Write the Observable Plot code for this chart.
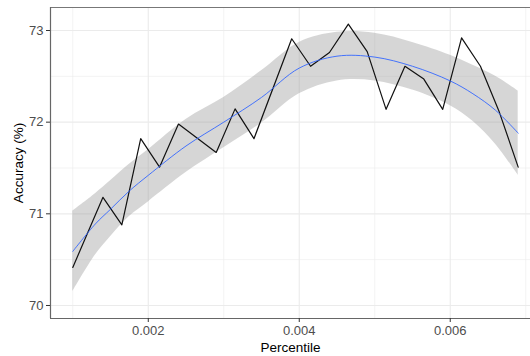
<!DOCTYPE html>
<html>
<head>
<meta charset="utf-8">
<script src="https://cdn.jsdelivr.net/npm/d3@7"></script>
<script src="https://cdn.jsdelivr.net/npm/@observablehq/plot@0.6"></script>
<style>
  html, body { margin: 0; padding: 0; background: #fff; }
  #chart svg { font-family: "Liberation Sans", Arial, sans-serif; display: block; }
  #chart svg [aria-label="x-axis label"] text,
  #chart svg [aria-label="y-axis label"] text { font-size: 13.5px; fill: #000; }
</style>
</head>
<body>
<div id="chart"></div>
<script>
// Observed accuracy by percentile
const percentile = [0.001, 0.0014, 0.00165, 0.0019, 0.00215, 0.0024, 0.0029, 0.00315, 0.0034,
  0.0039, 0.00415, 0.0044, 0.00465, 0.0049, 0.00515, 0.0054, 0.00565, 0.0059, 0.00615,
  0.0064, 0.00665, 0.0069];
const accuracy = [70.415, 71.18, 70.88, 71.82, 71.51, 71.98, 71.67, 72.145, 71.82,
  72.91, 72.61, 72.76, 73.07, 72.77, 72.14, 72.61, 72.47, 72.14, 72.92,
  72.61, 72.11, 71.51];

// Loess smooth and its confidence band
const smoothX = [0.001, 0.0013, 0.0015, 0.00175, 0.002, 0.0025, 0.003, 0.0035, 0.004,
  0.0045, 0.005, 0.0055, 0.006, 0.0063, 0.0066, 0.0069];
const smoothFit = [70.59, 70.89, 71.05, 71.25, 71.42, 71.74, 72.00, 72.27, 72.59,
  72.72, 72.71, 72.61, 72.45, 72.31, 72.13, 71.88];
const smoothLow = [70.15, 70.55, 70.75, 70.97, 71.13, 71.45, 71.72, 71.99, 72.31,
  72.45, 72.45, 72.35, 72.18, 72.01, 71.76, 71.42];
const smoothHigh = [71.03, 71.22, 71.36, 71.54, 71.70, 72.03, 72.27, 72.56, 72.87,
  72.98, 72.97, 72.87, 72.73, 72.62, 72.50, 72.34];

// Axis ticks
const xMajor = [0.002, 0.004, 0.006];
const xMinor = [0.001, 0.003, 0.005, 0.007];
const yMajor = [70, 71, 72, 73];
const yMinor = [70.5, 71.5, 72.5];

const obs = percentile.map((x, i) => ({x, y: accuracy[i]}));
const fit = smoothX.map((x, i) => ({x, y: smoothFit[i], lo: smoothLow[i], hi: smoothHigh[i]}));

const xDomain = [0.000705, 0.007063];
const yDomain = [69.858, 73.251];

const chart = Plot.plot({
  width: 530,
  height: 356,
  marginLeft: 50,
  marginRight: 0,
  marginTop: 7,
  marginBottom: 38,
  style: {background: "#fff", fontFamily: "Liberation Sans, Arial, sans-serif"},
  x: {domain: xDomain},
  y: {domain: yDomain},
  marks: [
    Plot.gridX(xMinor, {stroke: "#ebebeb", strokeOpacity: 1, strokeWidth: 0.6}),
    Plot.gridY(yMinor, {stroke: "#ebebeb", strokeOpacity: 1, strokeWidth: 0.6}),
    Plot.gridX(xMajor, {stroke: "#ebebeb", strokeOpacity: 1, strokeWidth: 1.1}),
    Plot.gridY(yMajor, {stroke: "#ebebeb", strokeOpacity: 1, strokeWidth: 1.1}),
    Plot.areaY(fit, {x: "x", y1: "lo", y2: "hi", fill: "#999999", fillOpacity: 0.4, curve: "catmull-rom"}),
    Plot.line(obs, {x: "x", y: "y", stroke: "#111", strokeWidth: 1.2}),
    Plot.line(fit, {x: "x", y: "y", stroke: "#3366FF", strokeWidth: 0.9, curve: "catmull-rom"}),
    Plot.ruleY([yDomain[1]], {stroke: "#777", strokeWidth: 1.2}),
    Plot.ruleY([yDomain[0]], {stroke: "#666", strokeWidth: 1.2}),
    Plot.ruleX([xDomain[0]], {stroke: "#666", strokeWidth: 1.2}),
    Plot.axisX(xMajor, {
      tickFormat: d3.format(".3f"), tickSize: 4, tickPadding: 3, fontSize: 13,
      color: "#4d4d4d", stroke: "#333", label: "Percentile", labelAnchor: "center",
      labelOffset: 33, labelArrow: "none"
    }),
    Plot.axisY(yMajor, {
      tickFormat: d3.format("d"), tickSize: 4, tickPadding: 3, fontSize: 13,
      color: "#4d4d4d", stroke: "#333", label: "Accuracy (%)", labelAnchor: "center",
      labelOffset: 37, labelArrow: "none"
    })
  ]
});
document.getElementById("chart").appendChild(chart);
</script>
</body>
</html>
